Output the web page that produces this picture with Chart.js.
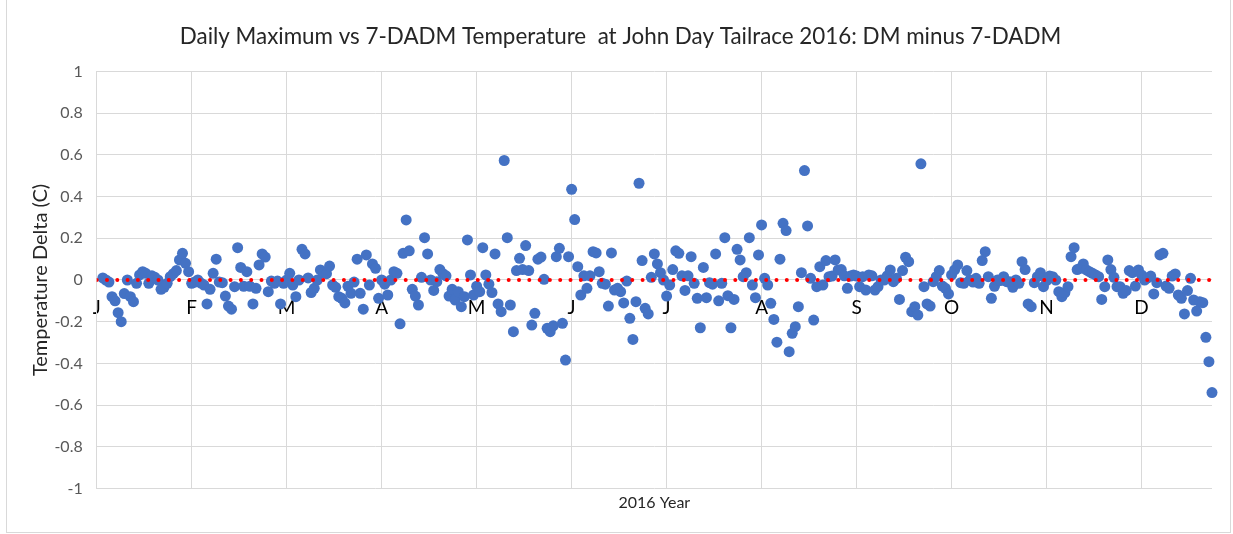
<!DOCTYPE html>
<html>
<head>
<meta charset="utf-8">
<script src="https://cdn.jsdelivr.net/npm/chart.js@4.4.1/dist/chart.umd.min.js"></script>
<style>
  html, body { margin: 0; padding: 0; background: #fff; }
  #frame { position: absolute; left: 6px; top: -1px; width: 1225px; height: 534px;
           box-sizing: border-box; border: 1px solid #d9d9d9; }
  canvas { display: block; }
</style>
</head>
<body>
<div id="frame"><canvas id="chart" width="1223" height="532"></canvas></div>
<script>
// --- DATA ---
// day index (0 = Jan 1) of the first plotted value, and last day on the axis
const firstDay = 2;
const lastDay = 364;
const zeroLevel = 0;

// DM minus 7-DADM (C), one value per day from firstDay
const deltaC = [
  // Jan
  0.01, 0.0, -0.01, -0.08, -0.1, -0.157, -0.2, -0.065, 0.0, -0.08, -0.104, -0.016, 0.024, 0.04, 0.032,
  -0.016, 0.02, 0.013, 0.0, -0.045, -0.035, -0.016, 0.016, 0.03, 0.045, 0.096, 0.128, 0.08, 0.04, -0.016,
  // Feb
  -0.01, 0.0, -0.015, -0.024, -0.115, -0.045, 0.032, 0.1, -0.01, -0.013, -0.077, -0.125, -0.14, -0.032, 0.155,
  0.06, -0.03, 0.04, -0.03, -0.115, -0.04, 0.072, 0.125, 0.11, -0.056, -0.005, -0.016, -0.005, -0.115, -0.016,
  0.0, 0.032,
  // Mar
  -0.024, -0.08, 0.0, 0.147, 0.125, 0.01, -0.06, -0.04, 0.0, 0.048, 0.035, 0.03, 0.067, -0.024, -0.035,
  -0.08, -0.088, -0.11, -0.03, -0.064, -0.01, 0.1, -0.064, -0.14, 0.12, -0.024, 0.077, 0.056, -0.088, 0.0,
  -0.02, -0.072, 0.0, 0.04,
  // Apr
  0.032, -0.21, 0.128, 0.288, 0.14, -0.045, -0.077, -0.12, 0.013, 0.203, 0.125, 0.0, -0.05, -0.008, 0.05,
  0.03, 0.02, -0.077, -0.045, -0.096, -0.056, -0.128, -0.08, 0.192, 0.024, -0.072, -0.03, -0.056, 0.155, 0.024,
  -0.02, -0.06, 0.125, -0.115,
  // May
  -0.152, 0.573, 0.203, -0.12, -0.248, 0.045, 0.104, 0.05, 0.165, 0.045, -0.216, -0.16, 0.1, 0.11, 0.003,
  -0.232, -0.248, -0.22, 0.112, 0.152, -0.208, -0.384, 0.112, 0.435, 0.29, 0.064, -0.072, 0.02, -0.04, 0.02,
  0.136,
  // Jun
  0.13, 0.04, -0.016, -0.02, -0.125, 0.13, -0.048, -0.04, -0.056, -0.11, -0.005, -0.184, -0.285, -0.104, 0.464,
  0.093, -0.136, -0.163, 0.013, 0.125, 0.077, 0.035, 0.0, -0.077, -0.024, 0.05, 0.14, 0.128, 0.02, -0.05,
  0.02, 0.112, -0.016, -0.088,
  // Jul
  -0.229, 0.06, -0.085, -0.013, -0.02, 0.125, -0.1, -0.016, 0.203, -0.075, -0.229, -0.093, 0.147, 0.096, 0.016,
  0.035, 0.203, -0.024, -0.085, 0.12, 0.264, 0.008, -0.024, -0.112, -0.189, -0.298, 0.1, 0.272, 0.237, -0.344,
  -0.256, -0.224, -0.128,
  // Aug
  0.035, 0.525, 0.259, 0.008, -0.192, -0.032, 0.064, -0.024, 0.093, 0.016, 0.019, 0.096, 0.048, 0.05, 0.02,
  -0.04, 0.019, 0.024, 0.019, -0.032, 0.016, -0.048, 0.024, 0.02, -0.048, -0.032, 0.0, 0.0, 0.02,
  // Sep
  0.048, -0.008, 0.008, -0.093, 0.045, 0.109, 0.088, -0.152, -0.128, -0.168, 0.557, -0.032, -0.115, -0.125, -0.008,
  0.016, 0.045, -0.029, -0.04, -0.067, 0.024, 0.048, 0.072, -0.013, -0.016, 0.045, 0.0, -0.01, 0.008, -0.016,
  0.093, 0.136, 0.016, -0.088, -0.03,
  // Oct
  0.0, -0.003, 0.016, -0.008, -0.008, -0.035, 0.0, -0.016, 0.088, 0.05, -0.115, -0.128, -0.013, 0.016, 0.035,
  -0.032, -0.003, 0.019, 0.016, 0.0, -0.056, -0.08, -0.06, -0.032, 0.112, 0.155, 0.05, 0.056, 0.077, 0.048,
  0.04,
  // Nov - Dec
  0.032, 0.024, 0.016, -0.093, -0.032, 0.096, 0.05, 0.013, -0.032, -0.032, -0.064, -0.051, 0.045, 0.035, -0.029,
  0.048, 0.024, 0.0, 0.01, 0.019, -0.067, -0.013, 0.12, 0.128, -0.029, -0.04, 0.019, 0.029, -0.072, -0.088,
  -0.163, -0.051, 0.008, -0.096, -0.149, -0.104, -0.109, -0.275, -0.392, -0.54
];

const monthTicks = [0, 31, 62, 93, 124, 155, 186, 217, 248, 279, 310, 341];
const monthLabels = ['J', 'F', 'M', 'A', 'M', 'J', 'J', 'A', 'S', 'O', 'N', 'D'];

// --- CHART ---
const FONT = 'Lato, "Open Sans", sans-serif';
const GRID = '#d9d9d9';

const points = deltaC.map((v, i) => ({ x: firstDay + i, y: v }));
const zeroLine = [{ x: 0, y: zeroLevel }, { x: lastDay, y: zeroLevel }];

new Chart(document.getElementById('chart'), {
    type: 'scatter',
    data: {
        datasets: [
            {
                label: 'zero',
                data: zeroLine,
                showLine: true,
                borderColor: '#ff0000',
                borderWidth: 4,
                borderDash: [0, 10.3],
                borderCapStyle: 'round',
                pointRadius: 0,
                order: 0
            },
            {
                label: 'DM minus 7-DADM',
                data: points,
                backgroundColor: '#4472c4',
                borderColor: '#4472c4',
                borderWidth: 0,
                pointRadius: 5.5,
                clip: false,
                order: 1
            }
        ]
    },
    options: {
        responsive: false,
        animation: false,
        devicePixelRatio: 1,
        layout: { padding: { left: 22, right: 18, top: 0, bottom: 0 } },
        plugins: {
            legend: { display: false },
            tooltip: { enabled: false },
            title: {
                display: true,
                text: 'Daily Maximum vs 7-DADM Temperature  at John Day Tailrace 2016: DM minus 7-DADM',
                color: '#262626',
                font: { family: FONT, size: 22.4, weight: 'normal' },
                padding: { top: 23.5, bottom: 21.1 }
            }
        },
        scales: {
            x: {
                type: 'linear',
                min: 0,
                max: lastDay,
                position: { y: 0 },
                afterBuildTicks: s => { s.ticks = monthTicks.map(v => ({ value: v })); },
                grid: { color: GRID, drawTicks: false },
                border: { display: false },
                ticks: {
                    callback: (v, i) => monthLabels[i],
                    autoSkip: false,
                    maxRotation: 0,
                    padding: 16,
                    color: '#000',
                    font: { family: FONT, size: 19 }
                }
            },
            x2: {
                type: 'linear',
                position: 'bottom',
                min: 0,
                max: lastDay,
                grid: { display: false },
                border: { display: false },
                ticks: { display: false },
                title: {
                    display: true,
                    text: '2016 Year',
                    color: '#262626',
                    font: { family: FONT, size: 16 },
                    padding: { top: 0, bottom: 19.4 }
                },
                afterFit: s => { s.height = 43.5; }
            },
            y: {
                min: -1,
                max: 1,
                ticks: {
                    stepSize: 0.2,
                    padding: 14,
                    color: '#595959',
                    font: { family: FONT, size: 16 },
                    callback: v => String(Number(v.toFixed(1)))
                },
                grid: { color: GRID, drawTicks: false },
                border: { color: GRID },
                title: {
                    display: true,
                    text: 'Temperature Delta (C)',
                    color: '#262626',
                    font: { family: FONT, size: 20 },
                    padding: { top: 0, bottom: 0 }
                },
                afterFit: s => { s.width = 67.7; }
            }
        }
    }
});
</script>
</body>
</html>
